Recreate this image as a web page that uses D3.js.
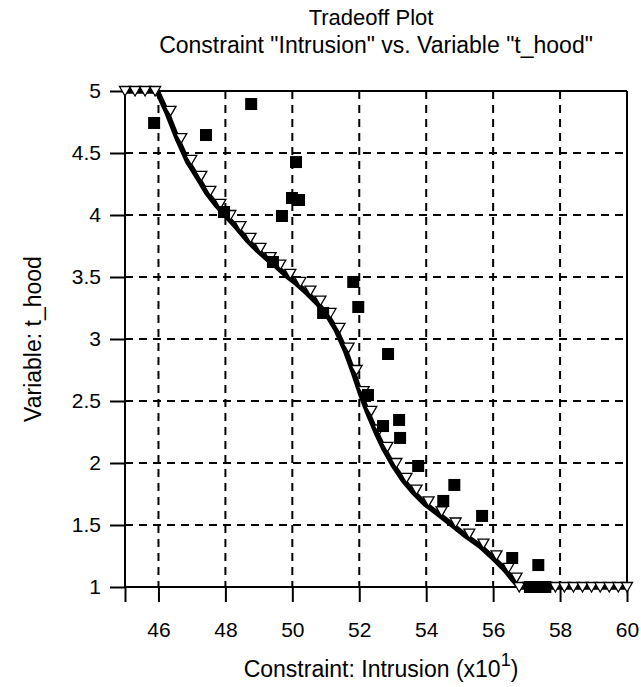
<!DOCTYPE html>
<html><head><meta charset="utf-8">
<script src="https://cdn.jsdelivr.net/npm/d3@7"></script>
<style>body{margin:0;background:#fff}svg{display:block}text{font-family:"Liberation Sans",Arial,sans-serif;fill:#000}</style>
</head><body>
<svg id="c" width="641" height="687"></svg>
<script>
const xTicks = [46, 48, 50, 52, 54, 56, 58, 60];
const yTicks = [1, 1.5, 2, 2.5, 3, 3.5, 4, 4.5, 5];
const yTickLabels = ["1", "1.5", "2", "2.5", "3", "3.5", "4", "4.5", "5"];

// tradeoff curve
const lineX = [45, 45.96, 46.26, 46.58, 46.88, 47.18, 47.45, 47.75, 48.05, 48.35, 48.65, 48.95, 49.25, 49.54, 49.84, 50.14, 50.44, 50.74, 51.04, 51.31, 51.58, 51.82, 52.03, 52.26, 52.5, 52.74, 53.01, 53.31, 53.61, 53.97, 54.36, 54.78, 55.19, 55.61, 56.0, 56.36, 56.6, 56.78, 60];
const lineY = [5, 5, 4.823, 4.605, 4.427, 4.298, 4.177, 4.073, 3.984, 3.895, 3.798, 3.718, 3.645, 3.581, 3.508, 3.444, 3.371, 3.29, 3.194, 3.073, 2.911, 2.734, 2.565, 2.403, 2.25, 2.113, 1.984, 1.863, 1.766, 1.669, 1.589, 1.5, 1.411, 1.331, 1.234, 1.137, 1.056, 1, 1];

// open triangle markers
const triX = [45, 45.3, 45.6, 45.9, 46.36, 46.68, 46.98, 47.28, 47.55, 47.85, 48.15, 48.45, 48.75, 49.05, 49.35, 49.64, 49.94, 50.24, 50.54, 50.84, 51.14, 51.41, 51.68, 51.92, 52.13, 52.36, 52.6, 52.84, 53.11, 53.41, 53.71, 54.07, 54.46, 54.88, 55.29, 55.71, 56.1, 56.46, 56.7, 56.78, 57.05, 57.32, 57.59, 57.86, 58.13, 58.4, 58.67, 58.94, 59.2, 59.47, 59.74, 60];
const triY = [5, 5, 5, 5, 4.84, 4.62, 4.445, 4.315, 4.195, 4.09, 4.0, 3.91, 3.815, 3.735, 3.66, 3.6, 3.525, 3.46, 3.39, 3.31, 3.21, 3.09, 2.93, 2.75, 2.58, 2.42, 2.27, 2.13, 2.0, 1.88, 1.785, 1.69, 1.61, 1.52, 1.43, 1.35, 1.255, 1.155, 1.075, 1, 1, 1, 1, 1, 1, 1, 1, 1, 1, 1, 1, 1];

// filled square points
const sqX = [45.87, 47.42, 48.77, 47.96, 50.11, 49.99, 50.2, 49.69, 49.42, 51.82, 51.97, 50.92, 52.86, 52.26, 52.71, 53.19, 53.22, 53.76, 54.84, 54.51, 55.67, 56.57, 57.35, 57.1, 57.3, 57.56];
const sqY = [4.742, 4.645, 4.895, 4.024, 4.427, 4.137, 4.121, 3.992, 3.621, 3.46, 3.258, 3.21, 2.879, 2.548, 2.298, 2.347, 2.202, 1.976, 1.823, 1.694, 1.573, 1.234, 1.177, 1.0, 1.0, 1.0];

const svg = d3.select("#c");
const x = d3.scaleLinear().domain([45, 60]).range([125, 627]);
const y = d3.scaleLinear().domain([1, 5]).range([587, 91]);

// grid
const g = svg.append("g");
g.selectAll("line.vg").data(xTicks.filter(d => d < 60)).join("line")
  .attr("x1", d => x(d)).attr("x2", d => x(d)).attr("y1", y(5)).attr("y2", y(1))
  .attr("stroke", "#000").attr("stroke-width", 2).attr("stroke-dasharray", "8,6");
g.selectAll("line.hg").data(yTicks.filter(d => d > 1 && d < 5)).join("line")
  .attr("x1", x(45)).attr("x2", x(60)).attr("y1", d => y(d)).attr("y2", d => y(d))
  .attr("stroke", "#000").attr("stroke-width", 2).attr("stroke-dasharray", "8,6");

// axes
const xAxis = d3.axisBottom(x).tickValues([45].concat(xTicks)).tickSize(15).tickFormat(d => d === 45 ? "" : d);
const ax = svg.append("g").attr("transform", `translate(0,${y(1)})`).call(xAxis);
ax.select(".domain").remove();
ax.selectAll(".tick line").attr("stroke", "#000").attr("stroke-width", 2);
ax.selectAll(".tick text").attr("font-size", 21).attr("dy", "0.71em").attr("y", 35);

const yAxis = d3.axisLeft(y).tickValues(yTicks).tickSize(15).tickFormat((d, i) => yTickLabels[i]);
const ay = svg.append("g").attr("transform", `translate(${x(45)},0)`).call(yAxis);
ay.select(".domain").remove();
ay.selectAll(".tick line").attr("stroke", "#000").attr("stroke-width", 2);
ay.selectAll(".tick text").attr("font-size", 21).attr("x", -24);

// frame
const frame = svg.append("g").attr("stroke", "#000").attr("stroke-width", 2).attr("fill", "none");
frame.append("line").attr("x1", x(45)).attr("x2", x(60)).attr("y1", y(1)).attr("y2", y(1));
frame.append("line").attr("x1", x(45)).attr("x2", x(60)).attr("y1", y(5)).attr("y2", y(5));
frame.append("line").attr("x1", x(45)).attr("x2", x(45)).attr("y1", y(5)).attr("y2", y(1));
frame.append("line").attr("x1", x(60)).attr("x2", x(60)).attr("y1", y(5)).attr("y2", y(1));

// line
const lineData = lineX.map((d, i) => [d, lineY[i]]);
svg.append("path").datum(lineData)
  .attr("d", d3.line().x(d => x(d[0])).y(d => y(d[1])))
  .attr("fill", "none").attr("stroke", "#000").attr("stroke-width", 5.5).attr("stroke-linejoin", "round");

// triangles
const triData = triX.map((d, i) => [d, triY[i]]);
svg.append("g").selectAll("path").data(triData).join("path")
  .attr("d", "M-5.5,-4.5L5.5,-4.5L0,5Z")
  .attr("transform", d => `translate(${x(d[0])},${y(d[1])})`)
  .attr("fill", "#fff").attr("stroke", "#000").attr("stroke-width", 1.3);

// squares
const sqData = sqX.map((d, i) => [d, sqY[i]]);
svg.append("g").selectAll("rect").data(sqData).join("rect")
  .attr("x", d => x(d[0]) - 6).attr("y", d => y(d[1]) - 6)
  .attr("width", 12).attr("height", 12).attr("fill", "#000");

// titles
svg.append("text").attr("x", 371).attr("y", 25).attr("text-anchor", "middle").attr("font-size", 22).text("Tradeoff Plot");
svg.append("text").attr("x", 376).attr("y", 53).attr("text-anchor", "middle").attr("font-size", 23).text('Constraint "Intrusion" vs. Variable "t_hood"');

// axis labels
const xl = svg.append("text").attr("x", 381).attr("y", 677).attr("text-anchor", "middle").attr("font-size", 23);
xl.append("tspan").text("Constraint: Intrusion (x10");
xl.append("tspan").attr("dy", -11).attr("font-size", 18).text("1");
xl.append("tspan").attr("dy", 11).text(")");

svg.append("text").attr("transform", "translate(41,339) rotate(-90)").attr("text-anchor", "middle").attr("font-size", 23).text("Variable: t_hood");
</script>
</body></html>
